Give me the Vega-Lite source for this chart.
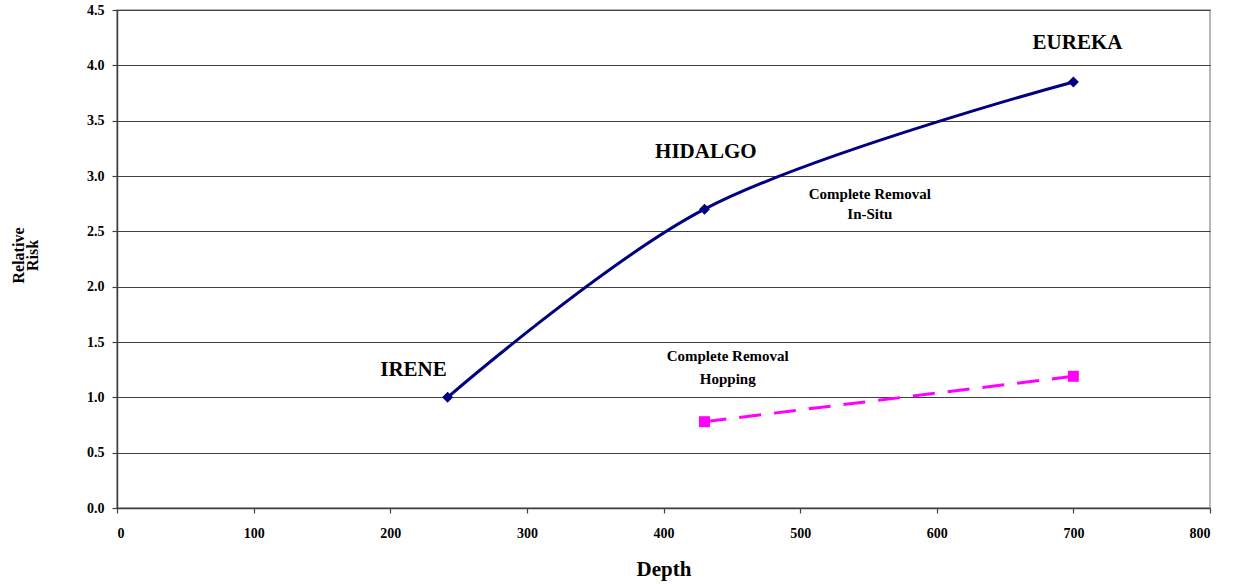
{
  "$schema": "https://vega.github.io/schema/vega-lite/v6.json",
  "autosize": {"type": "none"},
  "padding": {"left": 117, "top": 10, "right": 34, "bottom": 76},
  "width": 1093,
  "height": 498,
  "background": "white",
  "config": {
    "font": "Liberation Serif",
    "view": {"stroke": "#a0a0a0", "strokeWidth": 1.5},
    "axis": {
      "labelFont": "Liberation Serif",
      "titleFont": "Liberation Serif",
      "labelFontWeight": "bold",
      "titleFontWeight": "bold",
      "labelColor": "#000",
      "titleColor": "#000",
      "domainColor": "#404040",
      "domainWidth": 1.5,
      "tickColor": "#404040",
      "tickWidth": 1.2,
      "labelFontSize": 14
    }
  },
  "datasets": {
    "insitu": [
      {"depth": 242, "risk": 1.0, "field": "IRENE"},
      {"depth": 430, "risk": 2.7, "field": "HIDALGO"},
      {"depth": 700, "risk": 3.85, "field": "EUREKA"}
    ],
    "hopping": [
      {"depth": 430, "risk": 0.78},
      {"depth": 700, "risk": 1.19}
    ],
    "fieldNames": [
      {"depth": 217, "risk": 1.25, "name": "IRENE"},
      {"depth": 431, "risk": 3.22, "name": "HIDALGO"},
      {"depth": 703, "risk": 4.2, "name": "EUREKA"}
    ],
    "notes": [
      {"depth": 551, "risk": 2.84, "note": "Complete Removal"},
      {"depth": 551, "risk": 2.66, "note": "In-Situ"},
      {"depth": 447, "risk": 1.37, "note": "Complete Removal"},
      {"depth": 447, "risk": 1.17, "note": "Hopping"}
    ]
  },
  "encoding": {
    "x": {
      "field": "depth", "type": "quantitative",
      "scale": {"domain": [0, 800], "nice": false},
      "axis": {
        "title": "Depth", "titleFontSize": 21, "titlePadding": 18,
        "values": [0, 100, 200, 300, 400, 500, 600, 700, 800],
        "grid": false, "tickSize": 5, "labelPadding": 13
      }
    },
    "y": {
      "field": "risk", "type": "quantitative",
      "scale": {"domain": [0, 4.5], "nice": false},
      "axis": {
        "title": ["Relative", "Risk"], "titleFontSize": 16, "titleLineHeight": 14, "titlePadding": 46, "titleY": 245,
        "values": [0, 0.5, 1, 1.5, 2, 2.5, 3, 3.5, 4, 4.5],
        "format": ".1f",
        "grid": true, "gridColor": "#404040", "gridWidth": 1.2,
        "tickSize": 5, "labelPadding": 8
      }
    }
  },
  "layer": [
    {
      "data": {"name": "insitu"},
      "mark": {"type": "line", "color": "#000080", "strokeWidth": 3, "interpolate": "catmull-rom"}
    },
    {
      "data": {"name": "insitu"},
      "mark": {"type": "point", "shape": "diamond", "filled": true, "color": "#000080", "size": 120, "opacity": 1}
    },
    {
      "data": {"name": "hopping"},
      "mark": {"type": "line", "color": "#ff00ff", "strokeWidth": 3, "strokeDash": [22, 13]}
    },
    {
      "data": {"name": "hopping"},
      "mark": {"type": "point", "shape": "square", "filled": true, "color": "#ff00ff", "size": 120, "opacity": 1}
    },
    {
      "data": {"name": "fieldNames"},
      "mark": {"type": "text", "fontSize": 21, "fontWeight": "bold", "font": "Liberation Serif", "color": "#000"},
      "encoding": {"text": {"field": "name"}}
    },
    {
      "data": {"name": "notes"},
      "mark": {"type": "text", "fontSize": 15, "fontWeight": "bold", "font": "Liberation Serif", "color": "#000"},
      "encoding": {"text": {"field": "note"}}
    }
  ]
}
